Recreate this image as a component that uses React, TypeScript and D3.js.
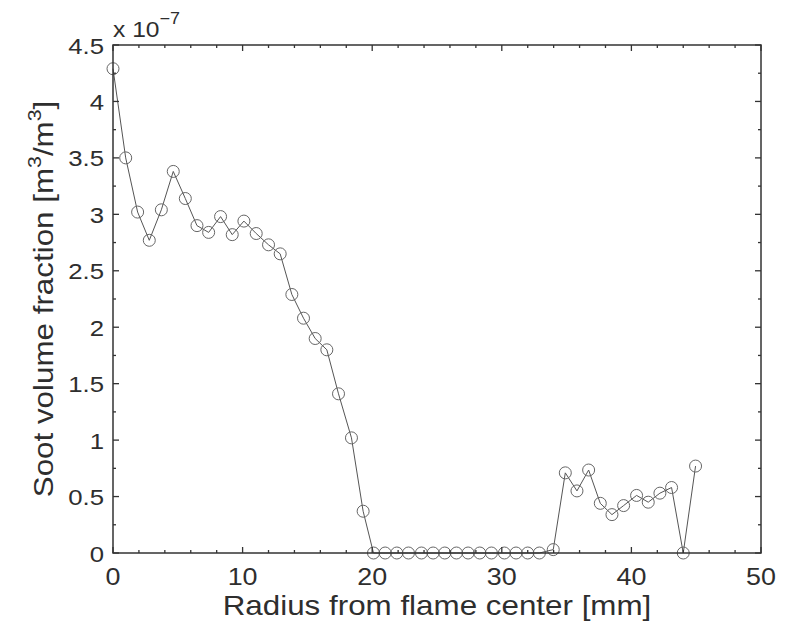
import React from "react";
import * as d3 from "d3";

// Radius from flame center [mm]
const radius: number[] = [
  0, 0.98, 1.9, 2.8, 3.73, 4.65, 5.58, 6.48, 7.38, 8.3, 9.2, 10.1, 11.05, 12.0, 12.9,
  13.8, 14.7, 15.6, 16.5, 17.4, 18.4, 19.3, 20.1, 21.0, 21.9, 22.8, 23.8, 24.7, 25.6,
  26.5, 27.4, 28.3, 29.2, 30.2, 31.1, 32.0, 32.9, 33.97, 34.9, 35.8, 36.7, 37.6, 38.5,
  39.4, 40.4, 41.3, 42.2, 43.1, 44.0, 44.95,
];
// Soot volume fraction (x 1e-7)
const soot: number[] = [
  4.29, 3.5, 3.02, 2.77, 3.04, 3.38, 3.14, 2.9, 2.84, 2.98, 2.82, 2.94, 2.83, 2.73, 2.65,
  2.29, 2.08, 1.9, 1.8, 1.41, 1.02, 0.37, 0, 0, 0, 0, 0, 0, 0,
  0, 0, 0, 0, 0, 0, 0, 0, 0.03, 0.71, 0.55, 0.735, 0.44, 0.34,
  0.42, 0.51, 0.45, 0.53, 0.58, 0, 0.77,
];
const xTicks: number[] = [0, 10, 20, 30, 40, 50];
const yTicks: number[] = [0, 0.5, 1, 1.5, 2, 2.5, 3, 3.5, 4, 4.5];
const xLabel = "Radius from flame center [mm]";
const yLabel = "Soot volume fraction [m";
const expBase = "x 10";
const expPow = "\u22127";

const W = 786;
const H = 624;
const M = { left: 113, right: 761, top: 45, bottom: 553 };
const SX = 1.12;
const FONT = "'Liberation Sans', Arial, sans-serif";
const TXT = "#2e2e2e";

export default function App() {
  const x = d3.scaleLinear().domain([0, 50]).range([M.left, M.right]);
  const y = d3.scaleLinear().domain([0, 4.5]).range([M.bottom, M.top]);
  const pts = radius.map((r, i) => [r, soot[i]] as [number, number]);
  const line = d3
    .line<[number, number]>()
    .x((d) => x(d[0]))
    .y((d) => y(d[1]));

  const xMinor = d3.range(0, 50.001, 2).filter((v) => v % 10 !== 0);
  const yMinor = d3.range(0, 4.5001, 0.25).filter((v) => Math.abs((v * 2) % 1) > 1e-6);
  const MAJ = 6;
  const MIN = 3;

  return (
    <div style={{ position: "absolute", left: 0, top: 0, width: W, height: H, background: "#fff" }}>
      <svg width={W} height={H} style={{ display: "block" }} fontFamily={FONT}>
        <rect x={0} y={0} width={W} height={H} fill="#fff" />
        {/* data line */}
        <path d={line(pts) || ""} fill="none" stroke="#555" strokeWidth={1} />
        {pts.map((d, i) => (
          <circle key={i} cx={x(d[0])} cy={y(d[1])} r={6} fill="none" stroke="#666" strokeWidth={1} />
        ))}
        {/* frame */}
        <rect
          x={M.left}
          y={M.top}
          width={M.right - M.left}
          height={M.bottom - M.top}
          fill="none"
          stroke="#333"
          strokeWidth={1.5}
        />
        {/* x ticks */}
        {xTicks.map((t) => (
          <g key={"xt" + t} stroke="#333" strokeWidth={1.3}>
            <line x1={x(t)} x2={x(t)} y1={M.bottom} y2={M.bottom - MAJ} />
            <line x1={x(t)} x2={x(t)} y1={M.top} y2={M.top + MAJ} />
          </g>
        ))}
        {xMinor.map((t) => (
          <g key={"xm" + t} stroke="#333" strokeWidth={1.3}>
            <line x1={x(t)} x2={x(t)} y1={M.bottom} y2={M.bottom - MIN} />
            <line x1={x(t)} x2={x(t)} y1={M.top} y2={M.top + MIN} />
          </g>
        ))}
        {yTicks.map((t) => (
          <g key={"yt" + t} stroke="#333" strokeWidth={1.3}>
            <line x1={M.left} x2={M.left + MAJ} y1={y(t)} y2={y(t)} />
            <line x1={M.right} x2={M.right - MAJ} y1={y(t)} y2={y(t)} />
          </g>
        ))}
        {yMinor.map((t) => (
          <g key={"ym" + t} stroke="#333" strokeWidth={1.3}>
            <line x1={M.left} x2={M.left + MIN} y1={y(t)} y2={y(t)} />
            <line x1={M.right} x2={M.right - MIN} y1={y(t)} y2={y(t)} />
          </g>
        ))}
        {/* x tick labels */}
        {xTicks.map((t) => (
          <text
            key={"xl" + t}
            transform={`translate(${x(t)},585) scale(${SX},1)`}
            textAnchor="middle"
            fontSize={24}
            fill={TXT}
          >
            {String(t)}
          </text>
        ))}
        {/* y tick labels */}
        {yTicks.map((t) => (
          <text
            key={"yl" + t}
            transform={`translate(104,${y(t) + 8.5}) scale(${SX},1)`}
            textAnchor="end"
            fontSize={23}
            fill={TXT}
          >
            {String(t)}
          </text>
        ))}
        {/* exponent */}
        <text transform={`translate(113,37) scale(${SX},1)`} fontSize={22} fill={TXT}>
          {expBase}
          <tspan fontSize={16} dy={-13}>
            {expPow}
          </tspan>
        </text>
        {/* axis labels */}
        <text
          transform={`translate(${(M.left + M.right) / 2},615) scale(${SX},1)`}
          textAnchor="middle"
          fontSize={28}
          fill={TXT}
        >
          {xLabel}
        </text>
        <text
          transform={`translate(53,${(M.top + M.bottom) / 2}) rotate(-90) scale(${SX},1)`}
          textAnchor="middle"
          fontSize={28}
          fill={TXT}
        >
          {yLabel}
          <tspan fontSize={19} dy={-12}>3</tspan>
          <tspan dy={12}>/m</tspan>
          <tspan fontSize={19} dy={-12}>3</tspan>
          <tspan dy={12}>]</tspan>
        </text>
      </svg>
    </div>
  );
}
